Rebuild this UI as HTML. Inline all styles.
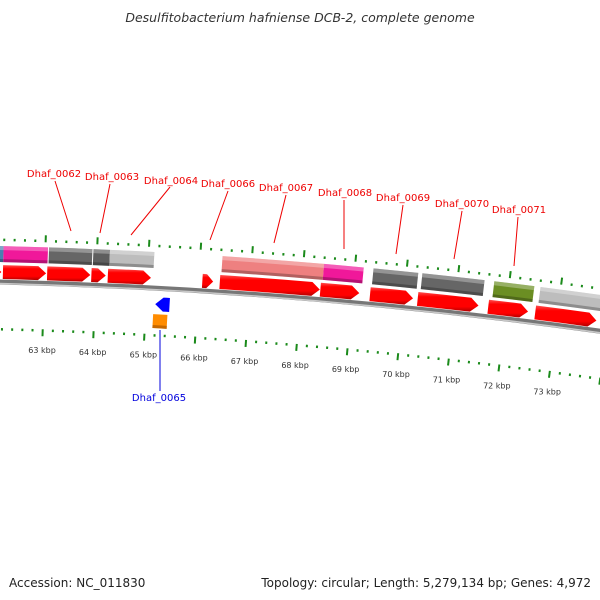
<!DOCTYPE html>
<html><head><meta charset="utf-8"><style>
html,body{margin:0;padding:0;background:#fff;}
svg{display:block;font-family:"DejaVu Sans","Liberation Sans",sans-serif;}
</style></head><body>
<svg id="chart" width="600" height="600" viewBox="0 0 600 600">
<defs>
<linearGradient id="gRed" x1="0" y1="0" x2="0" y2="1"><stop offset="0" stop-color="#ff5050"/><stop offset="0.25" stop-color="#ff0000"/><stop offset="0.75" stop-color="#f00"/><stop offset="1" stop-color="#b00000"/></linearGradient>
</defs>
<text x="300" y="22" text-anchor="middle" font-size="12.5" font-style="italic" fill="#333">Desulfitobacterium hafniense DCB-2, complete genome</text>
<g id="ticks"></g>
<g id="backbone"></g>
<g id="features"></g>
<g id="labels"></g>
<text x="9" y="587" font-size="12" fill="#222">Accession: NC_011830</text>
<text x="591" y="587" text-anchor="end" font-size="12" fill="#222">Topology: circular; Length: 5,279,134 bp; Genes: 4,972</text>
</svg>
<script>
// data (kbp)
const tickKbp = [62,63,64,65,66,67,68,69,70,71,72,73,74];
const labelKbp = [63,64,65,66,67,68,69,70,71,72,73];
const tickLabels = ["63 kbp","64 kbp","65 kbp","66 kbp","67 kbp","68 kbp","69 kbp","70 kbp","71 kbp","72 kbp","73 kbp"];
const fwdStarts = [61.9,62.19,63.05,63.91,64.23,66.07,66.41,68.37,69.34,70.27,71.65,72.57];
const fwdEnds   = [62.16,63.03,63.89,64.19,65.07,66.28,68.36,69.13,70.18,71.46,72.43,73.77];
const boxStarts = [61.9,62.19,63.07,63.93,64.25,66.43,68.40,69.36,70.31,71.71,72.61];
const boxEnds   = [62.19,63.05,63.91,64.25,65.11,68.40,69.17,70.23,71.52,72.49,73.83];
const boxColors = ["#4a7fb0","#f0189a","#666666","#5e5e5e","#bdbdbd","#ee8080","#f0189a","#666666","#666666","#6b8e23","#bdbdbd"];
const revStarts = [65.18];
const revEnds   = [65.46];
const otherStarts = [65.15];
const otherEnds = [65.43];

const NS="http://www.w3.org/2000/svg";
const cx=-132, R=5294, cy=5574.35, th0=0.0333, thk=0.0097;
function ang(k){return th0+(k-63)*thk;}
function pt(k,r){const t=ang(k);return [cx+r*Math.sin(t), cy-r*Math.cos(t)];}
function P(p){return p[0].toFixed(2)+","+p[1].toFixed(2);}
function arc(k,r){return " A"+r+","+r+" 0 0 1 "+P(pt(k,r));}
function arcB(k,r){return " A"+r+","+r+" 0 0 0 "+P(pt(k,r));}
function mk(tag,attrs,parent){const e=document.createElementNS(NS,tag);for(const a in attrs)e.setAttribute(a,attrs[a]);parent.appendChild(e);return e;}

const tg=document.getElementById('ticks');
const rO=R+41, rI=R-46, rL=R-67;
for(let i=0;i<tickKbp.length;i++){
  for(let j=0;j<5;j++){
    const k=tickKbp[i]+j*0.2;
    const maj=(j===0);
    const a=pt(k,rO), b=pt(k,rO+(maj?7:2.5));
    const t1=mk('line',{x1:a[0],y1:a[1],x2:b[0],y2:b[1],stroke:'#1a8a1a','stroke-width':2},tg);
    
    
    const c=pt(k,rI), d=pt(k,rI-(maj?7:2.5));
    const t2=mk('line',{x1:c[0],y1:c[1],x2:d[0],y2:d[1],stroke:'#1a8a1a','stroke-width':2},tg);
    
    
  }
}
for(let i=0;i<labelKbp.length;i++){
  const lp=pt(labelKbp[i],rL);
  const tx=mk('text',{x:lp[0],y:lp[1]+3,'text-anchor':'middle','font-size':'8','fill':'#333'},tg);
  tx.textContent=tickLabels[i];
  
  
}

const bg=document.getElementById('backbone');
const bb=mk('path',{d:"M"+P(pt(61.5,R))+arc(74.5,R),fill:'none',stroke:'#777','stroke-width':5},bg);


const bbh=mk('path',{d:"M"+P(pt(61.5,R-1.5))+arc(74.5,R-1.5),fill:'none',stroke:'#c8c8c8','stroke-width':1.5},bg);



const fg=document.getElementById('features');
function boxPath(s,e,r1,r2){return "M"+P(pt(s,r2))+arc(e,r2)+" L"+P(pt(e,r1))+arcB(s,r1)+"Z";}
function fwdPath(s,e,r1,r2){const h=Math.min(8/(r2*thk),(e-s)*0.6);const rm=(r1+r2)/2;
  return "M"+P(pt(s,r2))+arc(e-h,r2)+" L"+P(pt(e,rm))+" L"+P(pt(e-h,r1))+arcB(s,r1)+"Z";}
function revPath(s,e,r1,r2){const h=Math.min(8/(r2*thk),(e-s)*0.6);const rm=(r1+r2)/2;
  return "M"+P(pt(s+h,r2))+arc(e,r2)+" L"+P(pt(e,r1))+arcB(s+h,r1)+" L"+P(pt(s,rm))+"Z";}
function shade(s,e,r1,r2,col,op){const p=mk('path',{d:boxPath(s,e,r1,r2),fill:col,opacity:op},fg);
  }

for(let i=0;i<boxStarts.length;i++){
  const p=mk('path',{d:boxPath(boxStarts[i],boxEnds[i],R+20,R+36),fill:boxColors[i]},fg);
  
  
  shade(boxStarts[i],boxEnds[i],R+32,R+36,'#fff',0.3);
  shade(boxStarts[i],boxEnds[i],R+20,R+23,'#000',0.25);
}
for(let i=0;i<fwdStarts.length;i++){
  const p=mk('path',{d:fwdPath(fwdStarts[i],fwdEnds[i],R+3,R+17),fill:'url(#gRed)'},fg);
  
  
}
for(let i=0;i<revStarts.length;i++){
  const p=mk('path',{d:revPath(revStarts[i],revEnds[i],R-23,R-9),fill:'#0000ff'},fg);
  
  
}
for(let i=0;i<otherStarts.length;i++){
  const p=mk('path',{d:boxPath(otherStarts[i],otherEnds[i],R-40,R-26),fill:'#ff8c00'},fg);
  
  
  shade(otherStarts[i],otherEnds[i],R-40,R-37,'#a05000',0.6);
}

const lg=document.getElementById('labels');
const labs=[
 ["Dhaf_0062",54,177,55,181,71,231,"#e00"],
 ["Dhaf_0063",112,180,110,184,100,233,"#e00"],
 ["Dhaf_0064",171,184,170,187,131,235,"#e00"],
 ["Dhaf_0066",228,187,228,191,210,240,"#e00"],
 ["Dhaf_0067",286,191,286,195,274,243,"#e00"],
 ["Dhaf_0068",345,196,344,200,344,249,"#e00"],
 ["Dhaf_0069",403,201,403,205,396,254,"#e00"],
 ["Dhaf_0070",462,207,462,211,454,259,"#e00"],
 ["Dhaf_0071",519,213,518,217,514,266,"#e00"],
 ["Dhaf_0065",159,401,160,391,160,330,"#00d"]
];
for(const l of labs){
  const ln=mk('line',{x1:l[3],y1:l[4],x2:l[5],y2:l[6],stroke:l[7],'stroke-width':1},lg);
  
  
  const t=mk('text',{x:l[1],y:l[2],'text-anchor':'middle','font-size':'10',fill:l[7]},lg);
  t.textContent=l[0];
  
  
}
</script>
</body></html>
